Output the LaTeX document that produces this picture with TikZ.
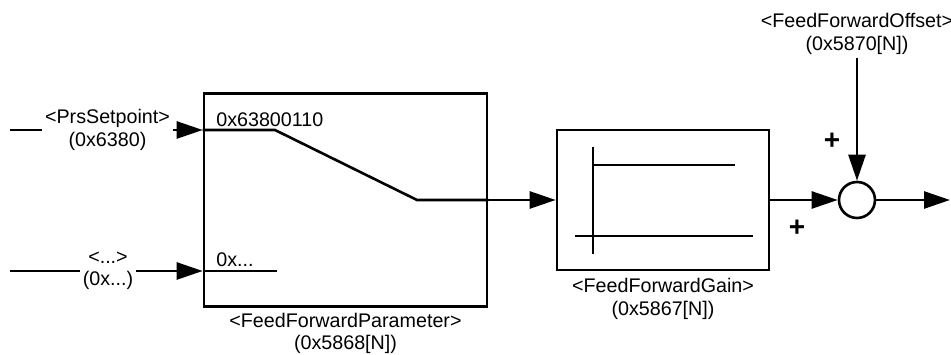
\documentclass[tikz,border=0pt]{standalone}
\usepackage{fontspec}
\setmainfont{Liberation Sans}
\usetikzlibrary{arrows.meta,positioning}

\begin{document}
\begin{tikzpicture}[x=1pt, y=1pt, >={Triangle[length=26pt,width=17pt]}, line width=2.6pt,
        font=\fontsize{19.7}{22.5}\selectfont,
        blk/.style={draw, inner sep=0pt},
        lbl/.style={align=center, inner sep=2pt},
        sgn/.style={font=\fontsize{28}{28}\selectfont\bfseries, inner sep=0pt}]
        \useasboundingbox (0,0) rectangle (951,355);

        % --- 1. Parameters ---
        \def\yIn{225}
        \def\yAlt{84}
        \def\yMain{155}

        % --- 2. Blocks ---
        \node[blk, minimum width=283pt, minimum height=213pt] (ParBox) at (345.5,\yMain) {};
        \node[blk, minimum width=212pt, minimum height=140pt] (GainBox) at (663,\yMain) {};
        \node[draw, circle, minimum size=36pt, inner sep=0pt] (Sum) at (857,\yMain) {};

        % --- 3. Labels ---
        \node[lbl] (LblA) at (107.5,\yIn) {<PrsSetpoint>\\(0x6380)};
        \node[lbl] (LblB) at (108,\yAlt) {<...>\\(0x...)};
        \node[lbl, below=2pt of ParBox] (ParLbl) {<FeedForwardParameter>\\(0x5868[N])};
        \node[lbl, below=4pt of GainBox] (GainLbl) {<FeedForwardGain>\\(0x5867[N])};
        \node[lbl] (OffLbl) at (857,321) {<FeedForwardOffset>\\(0x5870[N])};
        \node[anchor=base west, inner sep=0pt] (SwTxtA) at (215,228) {0x63800110};
        \node[anchor=base west, inner sep=0pt] (SwTxtB) at (215,88) {0x...};
        \node[sgn] (PlusA) at (797,127) {+};
        \node[sgn] (PlusB) at (832,214) {+};

        % --- 4. Inputs ---
        \coordinate (InA) at (10,\yIn);
        \coordinate (InB) at (10,\yAlt);
        \draw (InA) -- (LblA);
        \draw[->] (LblA) -- (ParBox.west |- InA);
        \draw (InB) -- (LblB);
        \draw[->] (LblB) -- (ParBox.west |- InB);

        % Switch
        \coordinate (SwA) at (275,\yIn);
        \coordinate (SwB) at (417,\yMain);
        \coordinate (SwC) at (277,\yAlt);
        \draw (ParBox.west |- InA) -- (SwA) -- (SwB) -- (ParBox.east);
        \draw (ParBox.west |- InB) -- (SwC);

        % Gain curve
        \draw (593,208) -- (593,101);
        \draw (593,190) -- (735,190);
        \draw (575,119) -- (753,119);

        % --- 5. Signal path ---
        \coordinate (OutEnd) at (950,\yMain);
        \draw[->] (ParBox) -- (GainBox);
        \draw[->] (GainBox) -- (Sum);
        \draw[->] (OffLbl) -- (Sum);
        \draw[->] (Sum) -- (OutEnd);
    \end{tikzpicture}
\end{document}
